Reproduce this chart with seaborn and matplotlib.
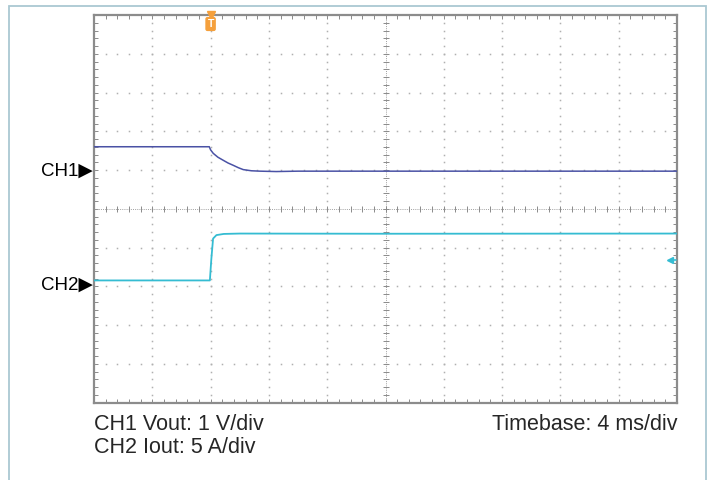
import numpy as np
import pandas as pd
import matplotlib
matplotlib.use("Agg")
import matplotlib.pyplot as plt
import matplotlib.patches as patches
import seaborn as sns

# scope capture, x in ms (4 ms/div), y in divisions
ch1_t = [0, 7.91, 8.0, 8.18, 8.5, 8.87, 9.2, 9.56, 9.9, 10.24, 10.8, 11.39, 12.5, 14.0, 40]
ch1_v = [1.60, 1.60, 1.52, 1.43, 1.33, 1.25, 1.18, 1.12, 1.06, 1.01, 0.98, 0.97, 0.96, 0.97, 0.97]

ch2_t = [0, 7.95, 8.05, 8.17, 8.4, 8.9, 10.0, 20.0, 40]
ch2_v = [-1.85, -1.85, -1.30, -0.77, -0.68, -0.65, -0.64, -0.645, -0.64]

ch1_ref = 0.97      # CH1 ground marker
ch2_ref = -1.98     # CH2 ground marker
trig_time = 8.0
trig_level = -1.33

ch1_label = "CH1 Vout: 1 V/div"
ch2_label = "CH2 Iout: 5 A/div"
time_label = "Timebase: 4 ms/div"

c1 = "#4a52a5"
c2 = "#35bcd2"
grid_c = "#b0b0b0"

sns.set_theme(style="white")
plt.rcParams['font.family'] = ['Liberation Sans', 'DejaVu Sans']

fig = plt.figure(figsize=(7.09, 4.8), dpi=100)
ax = fig.add_axes([94/709, 1 - 402.5/480, (677-94)/709, (402.5-15)/480])

# outer frame
fig.patches.append(patches.Rectangle((9/709, -0.05), (706-9)/709, 1 - 6/480 + 0.05,
                                     transform=fig.transFigure, fill=False,
                                     edgecolor="#aac8d2", lw=1.3))

ax.set_xlim(0, 40)
ax.set_ylim(-5, 5)

# dotted graticule
minor_x = np.arange(0, 40.01, 0.8)
minor_y = np.arange(-5, 5.01, 0.2)
for gx in np.arange(4, 40, 4):
    if gx == 20:
        continue
    ax.plot(np.full_like(minor_y, gx), minor_y, ls="none", marker="s", ms=1.1,
            mew=0, color=grid_c, zorder=1)
for gy in np.arange(-4, 5, 1):
    if gy == 0:
        continue
    ax.plot(minor_x, np.full_like(minor_x, gy), ls="none", marker="s", ms=1.1,
            mew=0, color=grid_c, zorder=1)

# centre cross with ticks
ax.axhline(0, color="#a0a0a0", lw=0.7, ls=(0, (1, 1.2)), zorder=1)
ax.axvline(20, color="#a0a0a0", lw=0.7, ls=(0, (1, 1.2)), zorder=1)
ax.plot(minor_x, np.zeros_like(minor_x), ls="none", marker="|", ms=4.5, mew=0.7,
        color="#8a8a8a", zorder=1)
ax.plot(np.full_like(minor_y, 20), minor_y, ls="none", marker="_", ms=4.5, mew=0.7,
        color="#8a8a8a", zorder=1)

# traces
sns.lineplot(x=ch1_t, y=ch1_v, ax=ax, color=c1, lw=1.1, estimator=None, sort=False, zorder=3)
sns.lineplot(x=ch2_t, y=ch2_v, ax=ax, color=c2, lw=1.3, estimator=None, sort=False, zorder=3)

# border ticks
ax.set_xticks(np.arange(0, 41, 4))
ax.set_yticks(np.arange(-5, 6, 1))
ax.set_xticks(minor_x, minor=True)
ax.set_yticks(minor_y, minor=True)
ax.tick_params(which="both", direction="in", length=3, width=0.7, color="#8a8a8a",
               top=True, right=True, bottom=True, left=True,
               labelbottom=False, labelleft=False)
for s in ax.spines.values():
    s.set_color("#8c8c8c")
    s.set_linewidth(1.6)
ax.set_xlabel("")
ax.set_ylabel("")

# channel markers
for lab, yv in [("CH1\u25b6", ch1_ref), ("CH2\u25b6", ch2_ref)]:
    ax.annotate(lab, xy=(0, yv), xycoords=("axes fraction", "data"),
                xytext=(-1, 0), textcoords="offset points",
                ha="right", va="center", fontsize=13.5, color="black",
                annotation_clip=False)

# trigger time marker
ax.plot([trig_time], [5], marker="v", ms=6, color="#f5a03c", clip_on=False, zorder=5)
ax.annotate("T", xy=(trig_time, 5), xycoords="data", xytext=(0, -6.5),
            textcoords="offset points", ha="center", va="center",
            fontsize=7.5, fontweight="bold", color="white",
            bbox=dict(boxstyle="round,pad=0.2", fc="#f5a03c", ec="none"),
            annotation_clip=False, zorder=5)

# trigger level marker
ax.plot([39.55], [trig_level], marker="<", ms=4, color=c2, clip_on=False, zorder=5)
ax.plot([39.6, 39.95], [trig_level, trig_level], color=c2, lw=1.2, clip_on=False, zorder=5)

# captions
fig.text(94/709, 1 - 430/480, ch1_label, ha="left", va="baseline", fontsize=15.5)
fig.text(94/709, 1 - 453/480, ch2_label, ha="left", va="baseline", fontsize=15.5)
fig.text(677/709, 1 - 430/480, time_label, ha="right", va="baseline", fontsize=15.5)

fig.savefig("out.png", dpi=100)
